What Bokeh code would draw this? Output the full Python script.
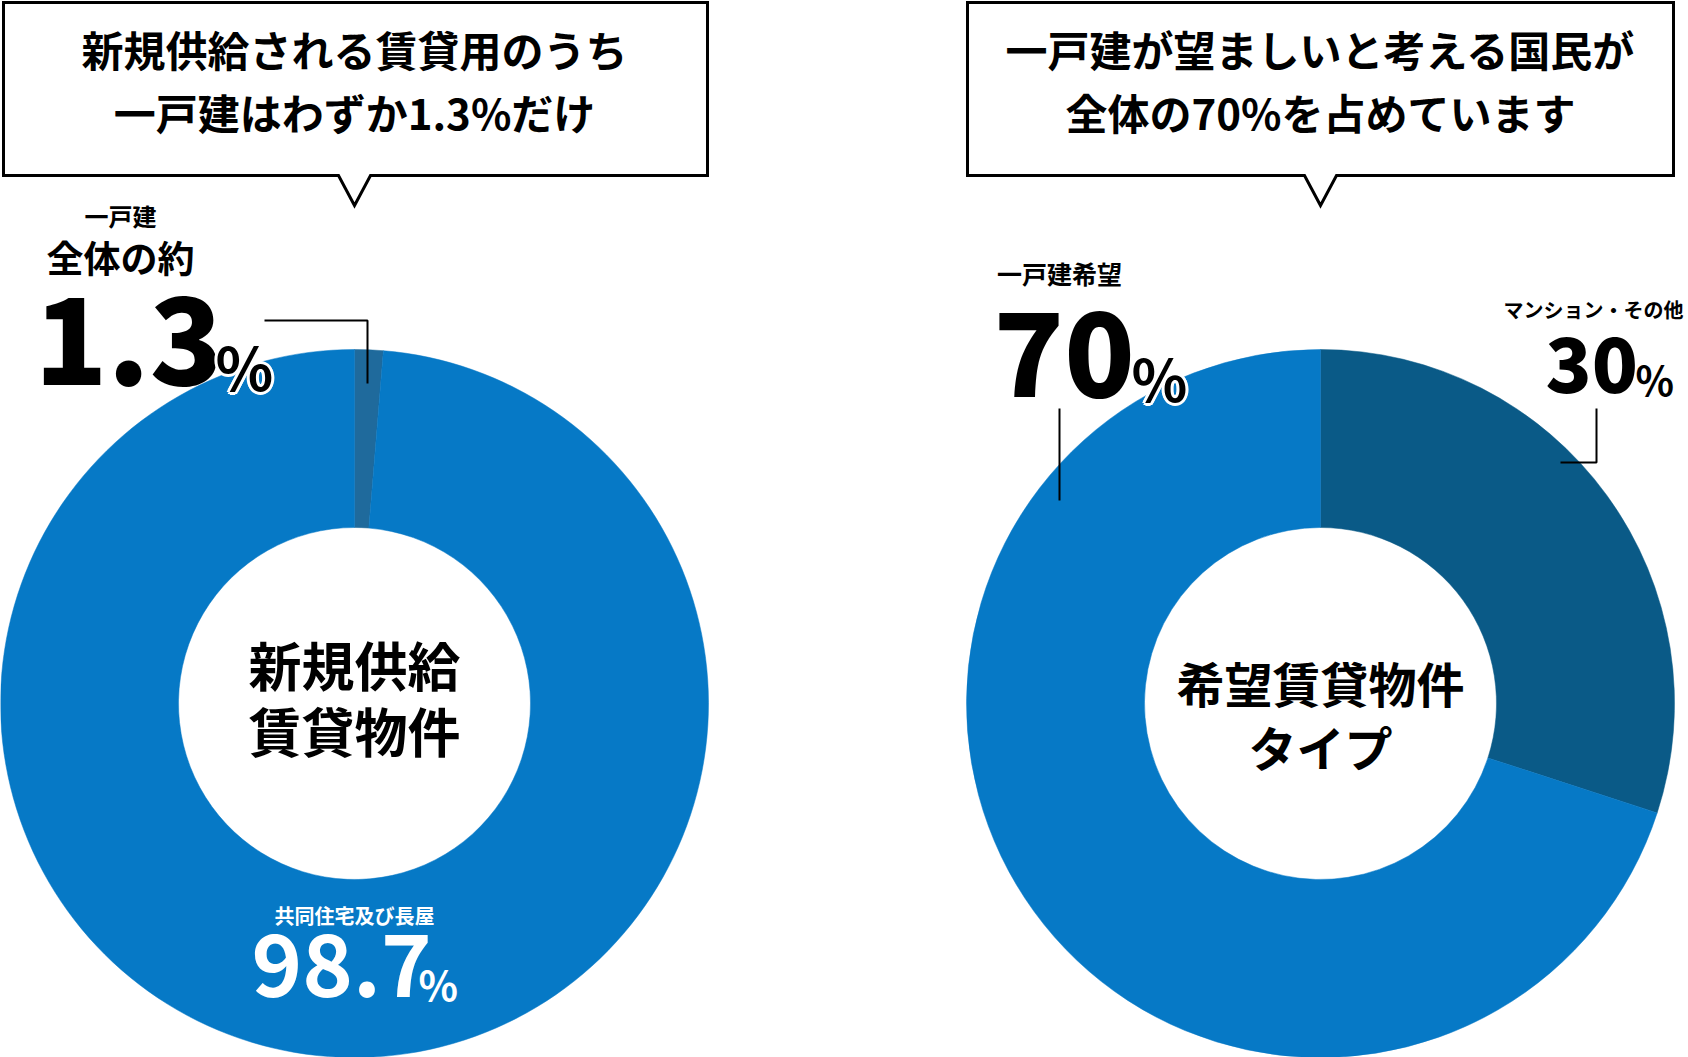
import numpy as np
from bokeh.plotting import figure
from bokeh.models import Range1d
from bokeh.core.properties import value
from bokeh.embed import file_html
from bokeh.resources import INLINE

# ---------------- data ----------------
chart1_title = ["新規供給される賃貸用のうち", "一戸建はわずか1.3%だけ"]
chart1_center = ["新規供給", "賃貸物件"]
chart1_labels = ["一戸建", "共同住宅及び長屋"]
chart1_values = [1.3, 98.7]
chart1_colors = ["#1f6a9c", "#0679c6"]

chart2_title = ["一戸建が望ましいと考える国民が", "全体の70%を占めています"]
chart2_center = ["希望賃貸物件", "タイプ"]
chart2_labels = ["マンション・その他", "一戸建希望"]
chart2_values = [30, 70]
chart2_colors = ["#0a5a87", "#0679c6"]

W, H = 1688, 1057
FONT = "Noto Sans CJK JP"
HEAVY = "Noto Sans CJK JP Black"


def Y(y):
    return H - y


p = figure(width=W, height=H, x_range=Range1d(0, W), y_range=Range1d(0, H),
           output_backend="svg", toolbar_location=None, min_border=0,
           x_axis_location=None, y_axis_location=None)
p.grid.visible = False
p.outline_line_color = None
p.background_fill_color = "white"
p.border_fill_color = "white"


def donut(cx, cy, values, colors):
    v = np.asarray(values, dtype=float)
    frac = np.concatenate([[0], np.cumsum(v)]) / v.sum()
    start = np.pi / 2 - frac[:-1] * 2 * np.pi
    end = np.pi / 2 - frac[1:] * 2 * np.pi
    p.annular_wedge(x=[cx] * len(v), y=[Y(cy)] * len(v), inner_radius=176, outer_radius=354,
                    start_angle=start, end_angle=end, direction="clock",
                    fill_color=colors, line_color=colors, line_width=0.5)


def balloon(x0, x1, y0, y1, cx, tip, hw):
    xs = [x0, x1, x1, cx + hw, cx, cx - hw, x0]
    ys = [Y(y0), Y(y0), Y(y1), Y(y1), Y(tip), Y(y1), Y(y1)]
    p.patch(xs, ys, fill_color="white", line_color="black", line_width=3, line_join="miter")


def txt(x, y, s, size, color="black", font=FONT, style="bold"):
    # y is the visual centre line of the text
    p.text(x=[x], y=[Y(y - 0.12 * size)], text=[s], text_font=value(font),
           text_font_size=f"{size}px", text_font_style=style, text_color=color,
           text_align="center", text_baseline="middle")


def num(x, y, s, size, color="black", font=FONT, style="bold", halo=None):
    # x = left edge, y = baseline of the glyphs
    yy = Y(y - 0.4 * size)
    if halo:
        for dx, dy in [(-3, 0), (3, 0), (0, -3), (0, 3), (-2, -2), (2, 2), (-2, 2), (2, -2)]:
            p.text(x=[x + dx], y=[yy + dy], text=[s], text_font=value(font),
                   text_font_size=f"{size}px", text_font_style=style, text_color=halo,
                   text_align="left", text_baseline="alphabetic")
    p.text(x=[x], y=[yy], text=[s], text_font=value(font), text_font_size=f"{size}px",
           text_font_style=style, text_color=color, text_align="left",
           text_baseline="alphabetic")


def lead(xs, ys):
    p.line(xs, [Y(y) for y in ys], line_color="black", line_width=2)


# ---------------- left chart ----------------
donut(354, 703, chart1_values, chart1_colors)
balloon(3, 707, 2, 175, 354, 205, 16)
txt(354, 53, chart1_title[0], 42)
txt(354, 116, chart1_title[1], 42)
txt(120, 218, chart1_labels[0], 24)
txt(120, 261, "全体の約", 37)
num(34, 388, f"{chart1_values[0]:g}", 120, font=HEAVY)
lead([264, 367, 367], [320, 320, 383])
num(215, 388, "%", 60, halo="white")
txt(354, 917, chart1_labels[1], 20, color="white")
num(251, 999, f"{chart1_values[1]:g}", 86, color="white")
num(418, 999, "%", 41, color="white")
txt(354, 670, chart1_center[0], 53)
txt(354, 736, chart1_center[1], 53)

# ---------------- right chart ----------------
donut(1320, 703, chart2_values, chart2_colors)
balloon(967, 1673, 2, 175, 1320, 205, 16)
txt(1320, 53, chart2_title[0], 42)
txt(1320, 116, chart2_title[1], 42)
txt(1059, 275, chart2_labels[1], 25)
num(993, 400, f"{chart2_values[1]:g}", 116, font=HEAVY)
num(1131, 400, "%", 58, halo="white")
lead([1059, 1059], [408, 500])
txt(1593, 311, chart2_labels[0], 20)
num(1545, 394, f"{chart2_values[0]:g}", 76, font=HEAVY)
num(1635, 394, "%", 40)
lead([1596, 1596, 1560], [408, 462, 462])
txt(1320, 687, chart2_center[0], 48)
txt(1320, 751, chart2_center[1], 48)

open("out.html", "w").write(file_html(p, INLINE))
